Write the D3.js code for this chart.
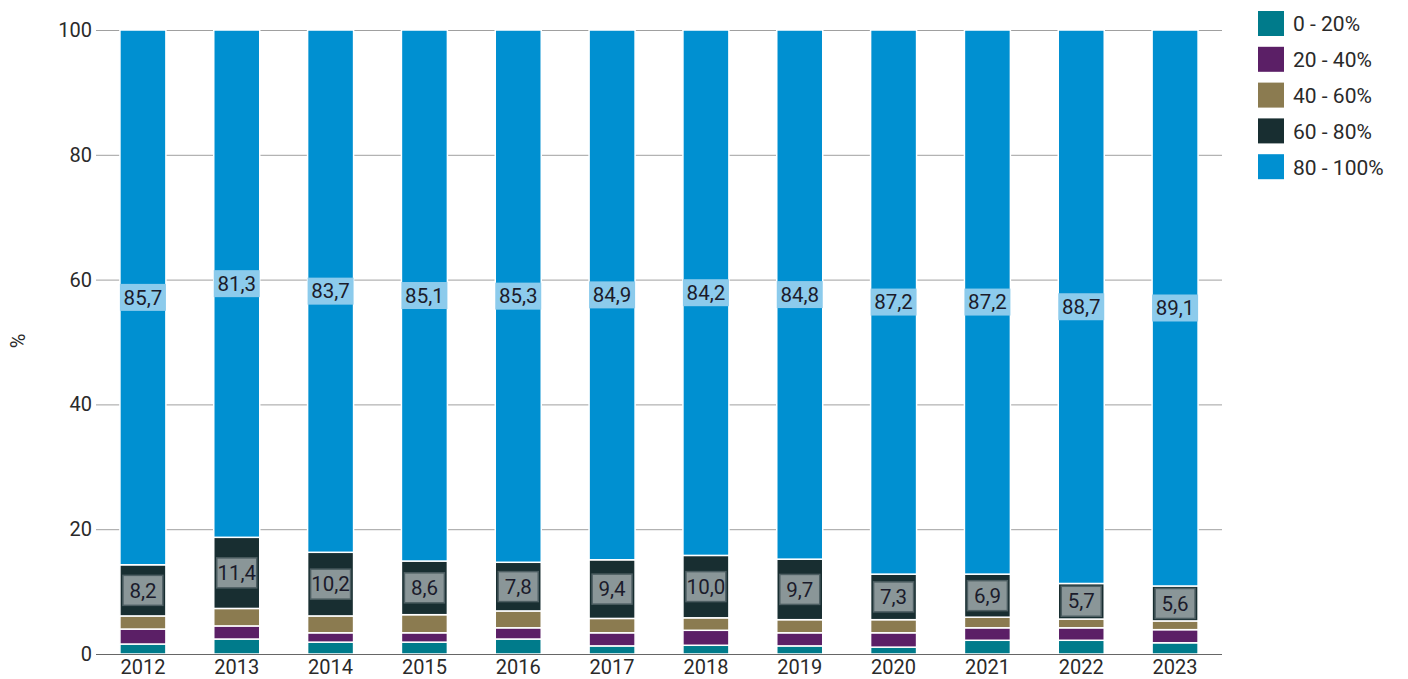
<!DOCTYPE html>
<html>
<head>
<meta charset="utf-8">
<script src="https://cdn.jsdelivr.net/npm/d3@7"></script>
<style>
  body { margin: 0; background: #fff; }
  text { font-family: Roboto, "Noto Sans", sans-serif; }
</style>
</head>
<body>
<svg id="chart" width="1408" height="679"></svg>
<script>
var years = ['2012', '2013', '2014', '2015', '2016', '2017', '2018', '2019', '2020', '2021', '2022', '2023'];
var seriesNames = ['0 - 20%', '20 - 40%', '40 - 60%', '60 - 80%', '80 - 100%'];
var seriesColors = ['#007b8b', '#5b1f66', '#8b7b50', '#182e31', '#0090d1'];
var share0to20 = [1.6, 2.4, 1.9, 1.9, 2.4, 1.3, 1.4, 1.3, 1.1, 2.2, 2.2, 1.8];
var share20to40 = [2.4, 2.1, 1.5, 1.5, 1.8, 2.1, 2.4, 2.1, 2.3, 2.0, 2.0, 2.1];
var share40to60 = [2.1, 2.8, 2.7, 2.9, 2.7, 2.3, 2.0, 2.1, 2.1, 1.7, 1.4, 1.4];
var share60to80 = [8.2, 11.4, 10.2, 8.6, 7.8, 9.4, 10.0, 9.7, 7.3, 6.9, 5.7, 5.6];
var share80to100 = [85.7, 81.3, 83.7, 85.1, 85.3, 84.9, 84.2, 84.8, 87.2, 87.2, 88.7, 89.1];
var yTicks = [0, 20, 40, 60, 80, 100];

var svg = d3.select('#chart');
var margin = { left: 96, right: 186, top: 30, bottom: 25 };
var width = 1408 - margin.left - margin.right;
var height = 679 - margin.top - margin.bottom;

var rows = years.map(function (y, i) {
  return {
    year: y,
    s0: share0to20[i], s1: share20to40[i], s2: share40to60[i],
    s3: share60to80[i], s4: share80to100[i]
  };
});
var keys = ['s0', 's1', 's2', 's3', 's4'];
var stacked = d3.stack().keys(keys)(rows);

var x = d3.scaleBand().domain(years).range([0, width]).paddingInner(0.51).paddingOuter(0.255);
var y = d3.scaleLinear().domain([0, 100]).range([height, 0]);

var g = svg.append('g').attr('transform', 'translate(' + margin.left + ',' + margin.top + ')');

// gridlines
g.append('g').selectAll('line')
  .data(yTicks.filter(function (t) { return t > 0; }))
  .enter().append('line')
  .attr('x1', 0).attr('x2', width)
  .attr('y1', function (d) { return y(d) + 0.5; })
  .attr('y2', function (d) { return y(d) + 0.5; })
  .attr('stroke', '#a0a0a0').attr('stroke-width', 1);

// y tick labels
g.append('g').selectAll('text')
  .data(yTicks)
  .enter().append('text')
  .attr('x', -4)
  .attr('y', function (d) { return y(d); })
  .attr('dy', '0.35em')
  .attr('text-anchor', 'end')
  .attr('font-size', 20)
  .attr('fill', '#2a2a2a')
  .text(function (d) { return d; });

// y axis title
svg.append('text')
  .attr('transform', 'translate(25,341) rotate(-90)')
  .attr('text-anchor', 'middle')
  .attr('font-size', 20)
  .attr('fill', '#2a2a2a')
  .text('%');

// bars
var layers = g.selectAll('.layer')
  .data(stacked)
  .enter().append('g')
  .attr('class', 'layer')
  .attr('fill', function (d, i) { return seriesColors[i]; });

layers.selectAll('rect')
  .data(function (d) { return d; })
  .enter().append('rect')
  .attr('x', function (d) { return x(d.data.year); })
  .attr('width', x.bandwidth())
  .attr('y', function (d) { return y(d[1]); })
  .attr('height', function (d) { return y(d[0]) - y(d[1]); })
  .attr('stroke', '#fff')
  .attr('stroke-width', 1.5);

// value labels for 60-80 and 80-100 segments
function addLabels(layerIndex, boxFill, boxStroke, boxH) {
  var lg = g.append('g');
  stacked[layerIndex].forEach(function (d) {
    var cx = x(d.data.year) + x.bandwidth() / 2;
    var cy = y((d[0] + d[1]) / 2);
    var label = d3.format('.1f')(d[1] - d[0]).replace('.', ',');
    var bw = layerIndex === 4 ? x.bandwidth() : x.bandwidth() - 6;
    lg.append('rect')
      .attr('x', cx - bw / 2)
      .attr('y', cy - boxH / 2)
      .attr('width', bw)
      .attr('height', boxH)
      .attr('fill', boxFill)
      .attr('stroke', boxStroke)
      .attr('stroke-width', 1.5);
    lg.append('text')
      .attr('x', cx)
      .attr('y', cy)
      .attr('dy', '0.35em')
      .attr('text-anchor', 'middle')
      .attr('font-size', 20.5)
      .attr('fill', '#1b1b2b')
      .text(label);
  });
}
addLabels(3, '#8a9698', '#4d5e62', 30);
addLabels(4, '#8ccbec', 'none', 27);

// x axis line
g.append('line')
  .attr('x1', 0).attr('x2', width)
  .attr('y1', height + 0.5).attr('y2', height + 0.5)
  .attr('stroke', '#666').attr('stroke-width', 1);

// x tick labels
g.append('g').selectAll('text')
  .data(years)
  .enter().append('text')
  .attr('x', function (d) { return x(d) + x.bandwidth() / 2; })
  .attr('y', height + 13)
  .attr('dy', '0.35em')
  .attr('text-anchor', 'middle')
  .attr('font-size', 20)
  .attr('fill', '#2a2a2a')
  .text(function (d) { return d; });

// legend
var legend = svg.append('g').attr('transform', 'translate(1258,11)');
seriesNames.forEach(function (name, i) {
  var item = legend.append('g').attr('transform', 'translate(0,' + (i * 35.8) + ')');
  item.append('rect')
    .attr('width', 26).attr('height', 25)
    .attr('fill', seriesColors[i]);
  item.append('text')
    .attr('x', 35).attr('y', 13)
    .attr('dy', '0.35em')
    .attr('font-size', 21)
    .attr('fill', '#2a2a2a')
    .text(name);
});
</script>
</body>
</html>
